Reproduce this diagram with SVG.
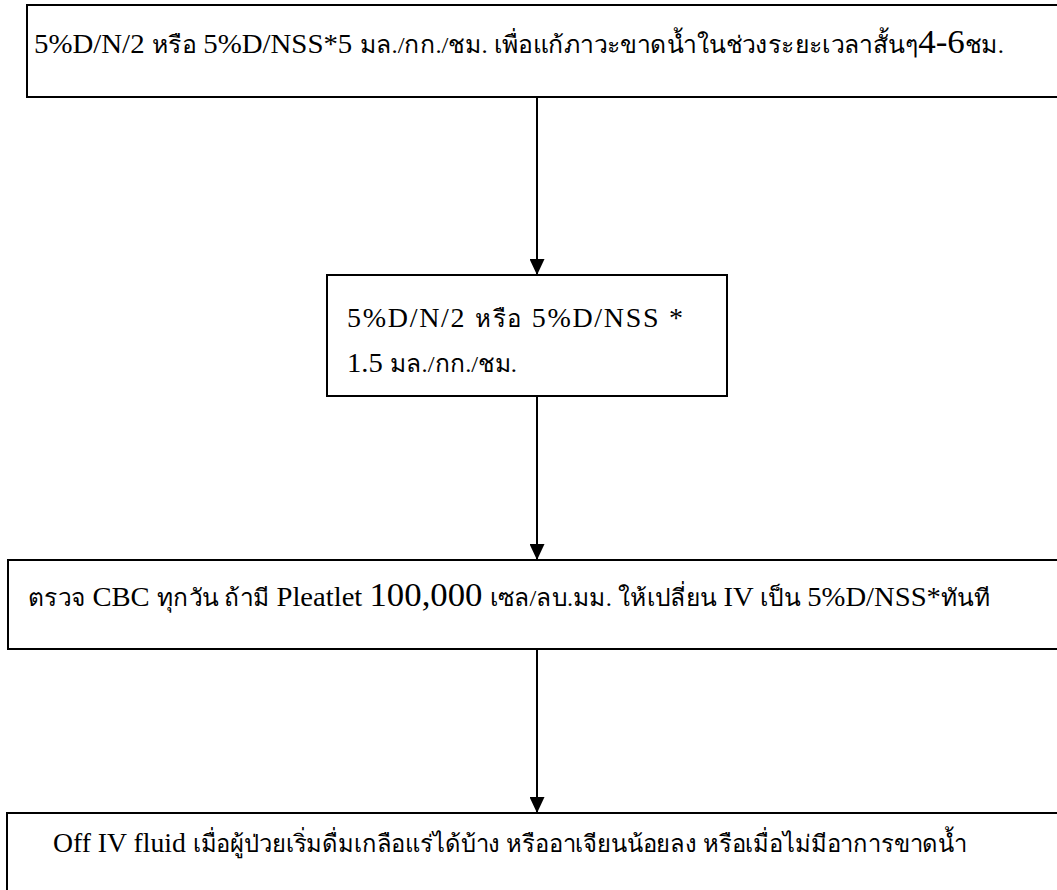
<svg xmlns="http://www.w3.org/2000/svg" width="1057" height="890" viewBox="0 0 1057 890">
<style>
.box{fill:#fff;stroke:#000;stroke-width:2}
.lbl{font-family:"Liberation Serif","Noto Sans",serif;font-size:28px;fill:#000}
.th{font-size:24px}
.big{font-size:34px}
.conn{stroke:#000;stroke-width:2;fill:none}
</style>
<defs>
<marker id="ah" viewBox="0 0 16 15" refX="16" refY="7.5" markerWidth="16" markerHeight="15" markerUnits="userSpaceOnUse" orient="auto">
<path d="M0,0 L16,7.5 L0,15 Z" fill="#000"/>
</marker>
</defs>
<rect width="1057" height="890" fill="#fff"/>
<g id="connectors">
<line class="conn" x1="537" y1="97" x2="537" y2="275" marker-end="url(#ah)"/>
<line class="conn" x1="537" y1="396" x2="537" y2="560" marker-end="url(#ah)"/>
<line class="conn" x1="537" y1="649" x2="537" y2="813" marker-end="url(#ah)"/>
</g>
<g id="node1">
<rect class="box" x="27" y="5" width="1040" height="92"/>
<text class="lbl" x="34" y="53" textLength="970" lengthAdjust="spacingAndGlyphs">5%D/N/2 <tspan class="th">หรือ</tspan> 5%D/NSS*5 <tspan class="th">มล./กก./ชม. เพื่อแก้ภาวะขาดน้ำในช่วงระยะเวลาสั้นๆ</tspan><tspan class="big">4-6</tspan><tspan class="th">ชม.</tspan></text>
</g>
<g id="node2">
<rect class="box" x="327" y="275" width="400" height="121"/>
<text class="lbl" x="347" y="327" textLength="336" lengthAdjust="spacing">5%D/N/2 <tspan class="th">หรือ</tspan> 5%D/NSS *</text>
<text class="lbl" x="347" y="372" textLength="170" lengthAdjust="spacingAndGlyphs">1.5 <tspan class="th">มล./กก./ชม.</tspan></text>
</g>
<g id="node3">
<rect class="box" x="8" y="560" width="1060" height="89"/>
<text class="lbl" x="28" y="606" textLength="962" lengthAdjust="spacingAndGlyphs"><tspan class="th">ตรวจ</tspan> CBC <tspan class="th">ทุกวัน ถ้ามี</tspan> Pleatlet <tspan class="big">100,000</tspan> <tspan class="th">เซล/ลบ.มม. ให้เปลี่ยน</tspan> IV <tspan class="th">เป็น</tspan> 5%D/NSS*<tspan class="th">ทันที</tspan></text>
</g>
<g id="node4">
<rect class="box" x="7" y="813" width="1060" height="100"/>
<text class="lbl" x="53" y="852" textLength="914" lengthAdjust="spacingAndGlyphs">Off IV fluid <tspan class="th">เมื่อผู้ป่วยเริ่มดื่มเกลือแร่ได้บ้าง หรืออาเจียนน้อยลง หรือเมื่อไม่มีอาการขาดน้ำ</tspan></text>
</g>
</svg>
